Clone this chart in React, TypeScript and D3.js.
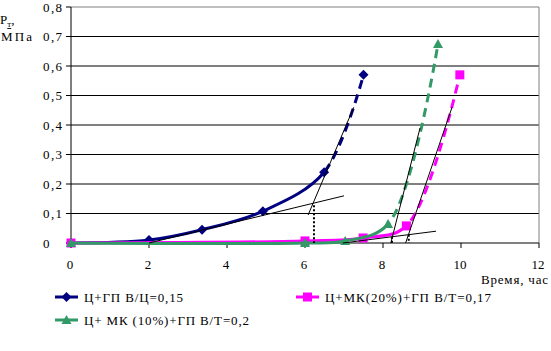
import * as d3 from "d3";

// series data (time, hours / pressure, MPa)
const s1x = [0, 2, 3.36, 4.92, 6.49, 7.5];
const s1y = [0, 0.01, 0.045, 0.108, 0.24, 0.57];
const s2x = [0, 6, 7.49, 8.6, 9.97];
const s2y = [0, 0.007, 0.017, 0.058, 0.57];
const s3x = [0, 6, 7.03, 8.13, 9.41];
const s3y = [0, 0, 0.007, 0.064, 0.675];

// x where each curve turns from solid to dashed
const dashFrom = [6.49, 8.6, 8.13];

const names = ["Ц+ГП В/Ц=0,15", "Ц+МК(20%)+ГП В/Т=0,17", "Ц+ МК (10%)+ГП В/Т=0,2"];
const colors = ["#000080", "#ff00ff", "#339966"];
const shapes = ["diamond", "square", "triangle"];

// thin tangent lines [x1, y1, x2, y2]
const tangents = [
  [2, 0, 7, 0.16],
  [6.08, 0.095, 7.25, 0.46],
  [6.97, 0, 9.36, 0.04],
  [8.2, 0, 8.95, 0.39],
  [8.58, 0, 9.77, 0.46],
];
// dotted drop lines [x, yTop]
const drops = [
  [6.23, 0.128],
  [8.23, 0.021],
  [8.66, 0.028],
];

const xTicks = [0, 2, 4, 6, 8, 10, 12];
const yTicks = [0, 0.1, 0.2, 0.3, 0.4, 0.5, 0.6, 0.7, 0.8];

const W = 551;
const H = 351;
const font = "'Liberation Serif', 'Times New Roman', serif";

function Marker({ shape, cx, cy, color }: { shape: string; cx: number; cy: number; color: string }) {
  if (shape === "diamond") {
    const r = 5;
    return <polygon points={`${cx},${cy - r} ${cx + r},${cy} ${cx},${cy + r} ${cx - r},${cy}`} fill={color} />;
  }
  if (shape === "square") {
    return <rect x={cx - 4.5} y={cy - 4.5} width={9} height={9} fill={color} />;
  }
  return <polygon points={`${cx},${cy - 5} ${cx + 5},${cy + 4} ${cx - 5},${cy + 4}`} fill={color} />;
}

export default function App() {
  const x = d3.scaleLinear().domain([0, 12]).range([71, 539]);
  const y = d3.scaleLinear().domain([0, 0.8]).range([243, 7]);

  const series = [
    { xs: s1x, ys: s1y },
    { xs: s2x, ys: s2y },
    { xs: s3x, ys: s3y },
  ];

  const line = d3
    .line<[number, number]>()
    .x((d) => x(d[0]))
    .y((d) => y(d[1]))
    .curve(d3.curveCatmullRom.alpha(0.5));

  const legend = [
    { lx: 55, ly: 297, w: 99 },
    { lx: 296, ly: 297, w: 166 },
    { lx: 55, ly: 320, w: 165 },
  ];

  return (
    <svg width={W} height={H} style={{ position: "absolute", left: 0, top: 0, background: "#fff" }} fontFamily={font}>
      <defs>
        {series.map((s, i) => (
          <g key={i}>
            <clipPath id={`solid${i}`}>
              <rect x={0} y={0} width={x(dashFrom[i])} height={H} />
            </clipPath>
            <clipPath id={`dash${i}`}>
              <rect x={x(dashFrom[i])} y={0} width={W} height={H} />
            </clipPath>
          </g>
        ))}
      </defs>

      {/* gridlines */}
      {yTicks.slice(1, -1).map((t) => (
        <line key={t} x1={x(0)} x2={x(12)} y1={y(t)} y2={y(t)} stroke="#000" strokeWidth={1} />
      ))}
      <line x1={x(0)} x2={x(12)} y1={y(0.8)} y2={y(0.8)} stroke="#808080" />
      <line x1={x(12)} x2={x(12)} y1={y(0.8)} y2={y(0)} stroke="#808080" />

      {/* axes */}
      <line x1={x(0)} x2={x(0)} y1={y(0.8)} y2={y(0)} stroke="#000" />
      <line x1={x(0)} x2={x(12)} y1={y(0)} y2={y(0)} stroke="#000" />
      {yTicks.map((t) => (
        <g key={t}>
          <line x1={x(0) - 5} x2={x(0)} y1={y(t)} y2={y(t)} stroke="#000" />
          {t === 0 ? (
            <text x={43} y={y(t)} dy="0.35em" fontSize={13}>
              0
            </text>
          ) : (
            <text x={43} y={y(t)} dy="0.35em" fontSize={13} textLength={19} lengthAdjust="spacing">
              {d3.format(".1f")(t).replace(".", ",")}
            </text>
          )}
        </g>
      ))}
      {xTicks.map((t) => (
        <g key={t}>
          <line x1={x(t)} x2={x(t)} y1={y(0)} y2={y(0) + 5} stroke="#000" />
          <text x={x(t) - 1} y={269} textAnchor="middle" fontSize={13}>
            {t}
          </text>
        </g>
      ))}

      {/* series */}
      {series.map((s, i) => {
        const pts = s.xs.map((v, j) => [v, s.ys[j]] as [number, number]);
        const d = line(pts) ?? "";
        return (
          <g key={i}>
            <path d={d} fill="none" stroke={colors[i]} strokeWidth={3} clipPath={`url(#solid${i})`} />
            <path d={d} fill="none" stroke={colors[i]} strokeWidth={3} strokeDasharray="9,6" clipPath={`url(#dash${i})`} />
            {pts.map((p, j) => (
              <Marker key={j} shape={shapes[i]} cx={x(p[0])} cy={y(p[1])} color={colors[i]} />
            ))}
          </g>
        );
      })}

      {/* tangents */}
      {tangents.map((t, i) => (
        <line key={i} x1={x(t[0])} y1={y(t[1])} x2={x(t[2])} y2={y(t[3])} stroke="#000" strokeWidth={1} />
      ))}
      {drops.map((d, i) => (
        <line key={i} x1={x(d[0])} x2={x(d[0])} y1={y(d[1])} y2={y(0)} stroke="#000" strokeWidth={2} strokeDasharray="2,2" />
      ))}

      {/* axis titles */}
      <text x={0} y={24} fontSize={13}>
        P<tspan fontSize={9} dy={3} textDecoration="underline">т</tspan>
        <tspan dy={-3}>,</tspan>
      </text>
      <text x={1} y={41} fontSize={13} textLength={31} lengthAdjust="spacing">МПа</text>
      <text x={481} y={284} fontSize={13} textLength={67} lengthAdjust="spacing">Время, час</text>

      {/* legend */}
      {legend.map((l, i) => (
        <g key={i}>
          <line x1={l.lx} x2={l.lx + 23} y1={l.ly} y2={l.ly} stroke={colors[i]} strokeWidth={3} />
          <Marker shape={shapes[i]} cx={l.lx + 11.5} cy={l.ly} color={colors[i]} />
          <text x={l.lx + 29} y={l.ly + 5} fontSize={13} textLength={l.w} lengthAdjust="spacing">
            {names[i]}
          </text>
        </g>
      ))}
    </svg>
  );
}
